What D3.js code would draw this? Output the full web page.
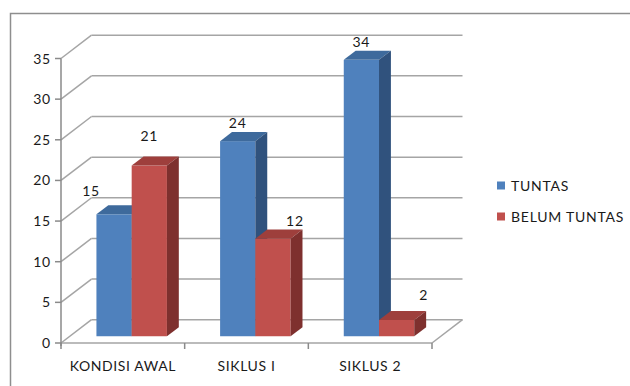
<!DOCTYPE html>
<html>
<head>
<meta charset="utf-8">
<script src="https://cdn.jsdelivr.net/npm/d3@7"></script>
<style>
  html, body { margin: 0; padding: 0; background: #fff; }
  svg { display: block; }
  text { font-family: Lato, "Open Sans", sans-serif; fill: #1a1a1a; }
</style>
</head>
<body>
<svg id="chart" width="630" height="386"></svg>
<script>
// Chart data
const categories = ["KONDISI AWAL", "SIKLUS I", "SIKLUS 2"];
const seriesNames = ["TUNTAS", "BELUM TUNTAS"];
const tuntas = [15, 24, 34];
const belumTuntas = [21, 12, 2];
const yTicks = [0, 5, 10, 15, 20, 25, 30, 35];

// Face colours for each series: front, top, side
const palette = {
  "TUNTAS":       { front: "#4F81BD", top: "#3E6A9C", side: "#30527D" },
  "BELUM TUNTAS": { front: "#C0504D", top: "#9E3F3C", side: "#7E302E" }
};
// Small hand nudges for some value labels [dx, dy]
const labelNudge = {
  "TUNTAS":       [[-23, -5], [0, 0], [0, 0]],
  "BELUM TUNTAS": [[0, -11], [22, 0], [27, -7]]
};

const seriesValues = { "TUNTAS": tuntas, "BELUM TUNTAS": belumTuntas };

const svg = d3.select("#chart");

// Outer chart frame
svg.append("rect")
  .attr("x", 10.5).attr("y", 13.5)
  .attr("width", 700).attr("height", 500)
  .attr("fill", "#fff")
  .attr("stroke", "#8E8E8E").attr("stroke-width", 1.5);

// Plot geometry: front plane and depth vector of the 3D box
const x0 = 61, x1 = 432;
const depth = { dx: 30.5, dy: -23.3 };
const y = d3.scaleLinear().domain([0, 35]).range([343, 58.5]);
const x = d3.scaleBand().domain(categories).range([x0, x1]).paddingInner(0).paddingOuter(0);
const groupW = x.bandwidth() * 0.57;
const xs = d3.scaleBand().domain(seriesNames).range([0, groupW]);
const fFront = 0.29, fBack = 0.68;   // bar depth range as fraction of box depth

const grid = svg.append("g")
  .attr("fill", "none")
  .attr("stroke", "#A5A5A5")
  .attr("stroke-width", 1.5);

// Back wall gridlines and left-wall diagonals
yTicks.forEach(t => {
  const yf = y(t), yb = y(t) + depth.dy;
  grid.append("line")
    .attr("x1", x0 + depth.dx).attr("y1", yb)
    .attr("x2", x1 + depth.dx).attr("y2", yb);
  grid.append("line")
    .attr("x1", x0).attr("y1", yf)
    .attr("x2", x0 + depth.dx).attr("y2", yb);
});
// Floor front edge and right edge
grid.append("line")
  .attr("x1", x0).attr("y1", y(0)).attr("x2", x1).attr("y2", y(0));
grid.append("line")
  .attr("x1", x1).attr("y1", y(0)).attr("x2", x1 + depth.dx).attr("y2", y(0) + depth.dy);

// Value axis (front left)
const axisG = svg.append("g").attr("stroke", "#8A8A8A").attr("stroke-width", 1.5);
axisG.append("line").attr("x1", x0).attr("y1", y(35)).attr("x2", x0).attr("y2", y(0) + 3);
yTicks.forEach(t => {
  axisG.append("line").attr("x1", x0 - 6).attr("y1", y(t)).attr("x2", x0).attr("y2", y(t));
});
// Category ticks
const catTicks = categories.map(c => x(c)).concat([x1]);
catTicks.forEach(cx => {
  axisG.append("line").attr("x1", cx).attr("y1", y(0)).attr("x2", cx).attr("y2", y(0) + 6);
});

svg.append("g").selectAll("text")
  .data(yTicks).join("text")
  .attr("x", x0 - 10).attr("y", d => y(d))
  .attr("dy", "0.36em")
  .attr("text-anchor", "end")
  .attr("font-size", 14)
  .attr("letter-spacing", 0.8)
  .text(d => d);

svg.append("g").selectAll("text")
  .data(categories).join("text")
  .attr("x", d => x(d) + x.bandwidth() / 2)
  .attr("y", 366)
  .attr("dy", "0.36em")
  .attr("text-anchor", "middle")
  .attr("font-size", 14)
  .attr("letter-spacing", 0.6)
  .text(d => d);

// 3D bars
const ddx0 = depth.dx * fFront, ddy0 = depth.dy * fFront;
const bdx = depth.dx * (fBack - fFront), bdy = depth.dy * (fBack - fFront);
const bars = svg.append("g");
const labels = svg.append("g");

categories.forEach((cat, ci) => {
  seriesNames.forEach(s => {
    const v = seriesValues[s][ci];
    const left = x(cat) + (x.bandwidth() - groupW) / 2 + xs(s) + ddx0;
    const right = left + xs.bandwidth();
    const top = y(v) + ddy0;
    const bottom = y(0) + ddy0;
    const col = palette[s];
    const g = bars.append("g");
    g.append("rect")
      .attr("x", left).attr("y", top)
      .attr("width", right - left).attr("height", bottom - top)
      .attr("fill", col.front);
    g.append("path")
      .attr("d", `M${left},${top}L${right},${top}L${right + bdx},${top + bdy}L${left + bdx},${top + bdy}Z`)
      .attr("fill", col.top);
    g.append("path")
      .attr("d", `M${right},${top}L${right + bdx},${top + bdy}L${right + bdx},${bottom + bdy}L${right},${bottom}Z`)
      .attr("fill", col.side);

    const [nx, ny] = labelNudge[s][ci];
    labels.append("text")
      .attr("x", (left + right) / 2 + nx)
      .attr("y", top + bdy - 9 + ny)
      .attr("dy", "0.36em")
      .attr("text-anchor", "middle")
      .attr("font-size", 14)
      .attr("letter-spacing", 0.8)
      .text(v);
  });
});

// Legend
const legend = svg.append("g");
seriesNames.forEach((s, i) => {
  const ly = 185.5 + i * 31;
  legend.append("rect")
    .attr("x", 497).attr("y", ly - 4)
    .attr("width", 8).attr("height", 8)
    .attr("fill", palette[s].front);
  legend.append("text")
    .attr("x", 511).attr("y", ly)
    .attr("dy", "0.36em")
    .attr("font-size", 14)
    .attr("letter-spacing", 0.75)
    .text(s);
});
</script>
</body>
</html>
